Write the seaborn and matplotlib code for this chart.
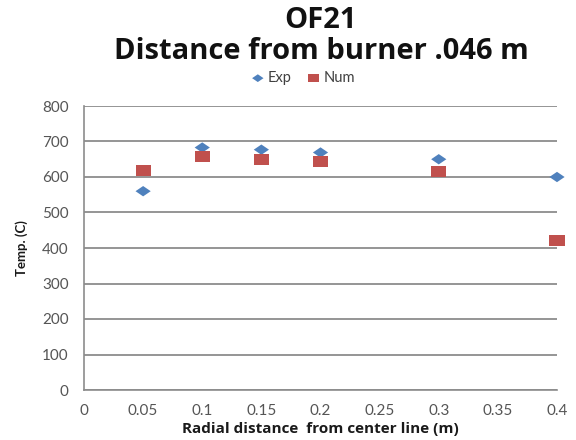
import matplotlib
matplotlib.use("Agg")
import matplotlib.pyplot as plt
import seaborn as sns
import pandas as pd

radial = [0.05, 0.1, 0.15, 0.2, 0.3, 0.4]
exp_temp = [560, 683, 677, 669, 650, 600]
num_temp = [618, 657, 650, 643, 616, 421]

df = pd.DataFrame({
    "r": radial * 2,
    "T": exp_temp + num_temp,
    "series": ["Exp"] * len(radial) + ["Num"] * len(radial),
})

sns.set_theme(style="white")
plt.rcParams["font.family"] = ["Lato", "DejaVu Sans"]
WIDE = ["Open Sans", "DejaVu Sans"]

fig = plt.figure(figsize=(5.76, 4.4), dpi=100)
ax = fig.add_axes([84 / 576, 1 - 390 / 440, (557 - 84) / 576, (390 - 106) / 440])

# slightly flattened diamond and rectangle markers
diamond = [(-1, 0), (0, 0.68), (1, 0), (0, -0.68), (-1, 0)]
rect = [(-1, -0.75), (1, -0.75), (1, 0.75), (-1, 0.75), (-1, -0.75)]

palette = {"Exp": "#4F81BD", "Num": "#C0504D"}
markers = {"Exp": diamond, "Num": rect}
for name, grp in df.groupby("series"):
    sns.scatterplot(data=grp, x="r", y="T", ax=ax, color=palette[name],
                    marker=markers[name], s=120, edgecolor="none",
                    label=name, zorder=3, clip_on=False)

ax.set_xlim(0, 0.4)
ax.set_ylim(0, 800)
ax.set_xticks([0, 0.05, 0.1, 0.15, 0.2, 0.25, 0.3, 0.35, 0.4])
ax.set_xticklabels(["0", "0.05", "0.1", "0.15", "0.2", "0.25", "0.3", "0.35", "0.4"])
ax.set_yticks(range(0, 801, 100))
ax.yaxis.grid(True, color="#8c8c8c", linewidth=1.3)
ax.xaxis.grid(False)
ax.set_axisbelow(True)
for side in ("top", "right"):
    ax.spines[side].set_visible(False)
for side in ("left", "bottom"):
    ax.spines[side].set_color("#8c8c8c")
    ax.spines[side].set_linewidth(1.2)
ax.tick_params(axis="both", which="both", direction="out", length=6,
               color="#8c8c8c", width=1.0, labelsize=11, labelcolor="#555555")
ax.tick_params(axis="y", pad=5)
ax.tick_params(axis="x", pad=4)

ax.set_xlabel("Radial distance  from center line (m)", fontsize=11,
              fontweight="bold", color="#1a1a1a", labelpad=3, family=WIDE)
ax.set_ylabel("Temp. (C)", fontsize=9.5, fontweight="bold", color="#1a1a1a",
              labelpad=10)

fig.text(321 / 576, 1 - 20 / 440, "OF21", ha="center", va="center",
         fontsize=21, fontweight="bold", color="#111111", family=WIDE)
fig.text(321 / 576, 1 - 51 / 440, "Distance from burner .046 m", ha="center",
         va="center", fontsize=21, fontweight="bold", color="#111111", family=WIDE)

leg = ax.legend(loc="center", bbox_to_anchor=(303 / 576, 1 - 78 / 440),
                bbox_transform=fig.transFigure, ncol=2, frameon=False,
                fontsize=10.5, handletextpad=0.2, columnspacing=1.0,
                markerscale=0.75, borderaxespad=0, handlelength=1.0)
for t in leg.get_texts():
    t.set_color("#404040")

fig.savefig("out.png", dpi=100)
